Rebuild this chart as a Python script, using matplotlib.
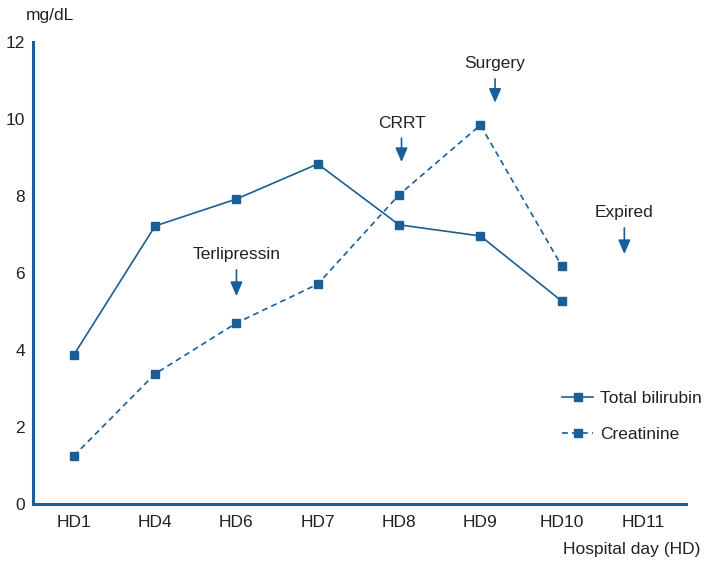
import matplotlib.pyplot as plt

plt.rcParams['font.family'] = ['Liberation Sans', 'DejaVu Sans']

days = ["HD1", "HD4", "HD6", "HD7", "HD8", "HD9", "HD10", "HD11"]
bilirubin = [3.87, 7.22, 7.92, 8.83, 7.25, 6.96, 5.27]
creatinine = [1.25, 3.38, 4.70, 5.71, 8.03, 9.84, 6.18]

# event annotations: (label, x position in day index, text y, arrow start y, arrow end y)
events = [
    ("Terlipressin", 2.0, 6.49, 6.08, 5.40),
    ("CRRT", 4.03, 9.87, 9.50, 8.88),
    ("Surgery", 5.18, 11.43, 11.04, 10.42),
    ("Expired", 6.77, 7.56, 7.17, 6.49),
]

blue = "#1a5e98"
txt = "#222222"

fig = plt.figure(figsize=(7.2, 5.66), dpi=100)
ax = fig.add_axes([0.046, 0.1095, 0.907, 0.8165])

x = list(range(len(bilirubin)))
ax.plot(x, bilirubin, color=blue, lw=1.2, marker="s", ms=6, label="Total bilirubin")
ax.plot(x, creatinine, color=blue, lw=1.2, ls=(0, (3.5, 2.5)), marker="s", ms=6, label="Creatinine")

for label, xp, ty, y0, y1 in events:
    ax.text(xp, ty, label, ha="center", va="center", fontsize=12.5, color=txt)
    ax.annotate("", xy=(xp, y1), xytext=(xp, y0),
                arrowprops=dict(arrowstyle="-|>,head_length=0.85,head_width=0.37",
                                mutation_scale=10, color=blue, lw=1.2,
                                shrinkA=0, shrinkB=0))

ax.set_xlim(-0.5, 7.53)
ax.set_ylim(0, 12)
ax.set_xticks(range(len(days)))
ax.set_xticklabels(days)
ax.set_yticks([0, 2, 4, 6, 8, 10, 12])
ax.tick_params(length=0, labelsize=12.5, labelcolor=txt)
ax.tick_params(axis="x", pad=8)
ax.tick_params(axis="y", pad=6)

for side in ["top", "right"]:
    ax.spines[side].set_visible(False)
for side in ["left", "bottom"]:
    ax.spines[side].set_color(blue)
    ax.spines[side].set_linewidth(2.2)

fig.text(0.07, 0.972, "mg/dL", fontsize=12.5, color=txt, ha="center", va="center")
fig.text(0.877, 0.03, "Hospital day (HD)", fontsize=12.5, color=txt, ha="center", va="center")

leg = ax.legend(loc="upper left", bbox_to_anchor=(0.81, 0.245), frameon=False,
                fontsize=12.5, handlelength=1.8, labelspacing=1.2, handletextpad=0.4,
                borderpad=0, borderaxespad=0)
for t in leg.get_texts():
    t.set_color(txt)

fig.savefig("out.png", dpi=100)
